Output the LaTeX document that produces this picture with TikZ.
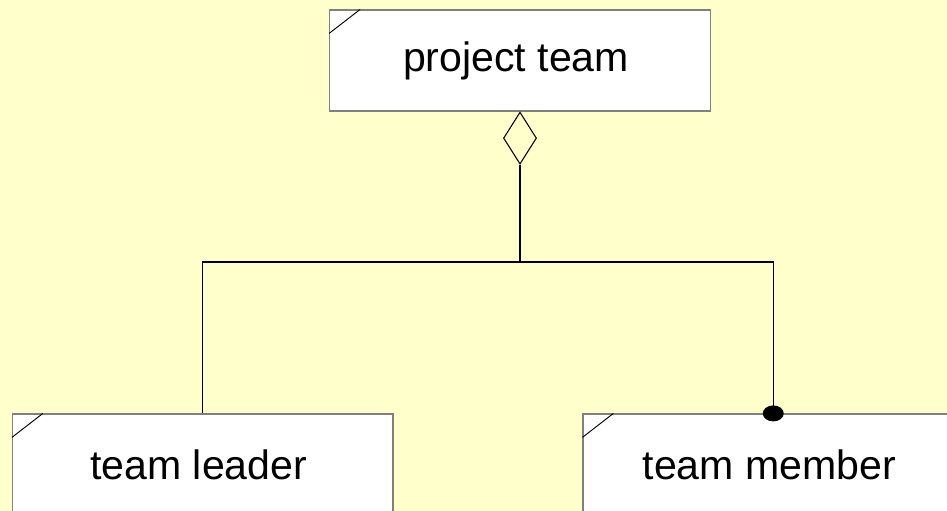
\documentclass[tikz,border=0pt]{standalone}
\usepackage{fontspec}
\setmainfont{Liberation Sans}
\usetikzlibrary{shapes.geometric}
\definecolor{bgyellow}{HTML}{FFFFCC}
\definecolor{boxgray}{HTML}{808080}
\tikzset{
  classbox/.style={draw=boxgray, line width=0.9pt, fill=white, inner sep=0pt,
    minimum width={380.5*0.75pt}, minimum height={101*0.75pt},
    font=\fontsize{30.8pt}{36pt}\selectfont, text=black},
  conn/.style={draw=black, line width=0.8pt},
  corner/.style={draw=black, line width=0.7pt},
}
\newcommand{\txtleftshift}{\hspace*{-6pt}}
\begin{document}
\begin{tikzpicture}[x=0.75pt, y=-0.75pt]
\fill[bgyellow] (0,0) rectangle (947,511);
\useasboundingbox (0,0) rectangle (947,511);
\clip (0,0) rectangle (947,511);
\node[classbox] (pt) at (520,60.5) {\txtleftshift project team};
\node[classbox] (tl) at (202.75,464.5) {\txtleftshift team leader};
\node[classbox] (tm) at (773.25,464.5) {\txtleftshift team member};
% corner marks
\draw[corner] ([yshift={-24*0.75pt}]pt.north west) -- ([xshift={31*0.75pt}]pt.north west);
\draw[corner] ([yshift={-24*0.75pt}]tl.north west) -- ([xshift={31*0.75pt}]tl.north west);
\draw[corner] ([yshift={-24*0.75pt}]tm.north west) -- ([xshift={31*0.75pt}]tm.north west);
% aggregation diamond
\node[diamond, draw=black, line width=0.8pt, fill=bgyellow, inner sep=0pt,
  minimum width={33*0.75pt}, minimum height={52*0.75pt}, anchor=north] (agg) at (pt.south) {};
\coordinate (j) at (520,262);
\draw[conn] (agg.south) -- (j);
\draw[conn] (tl.north) |- (j) -| (tm.north);
\fill[black] (tm.north) ellipse [x radius=10.5, y radius=8];
\end{tikzpicture}
\end{document}
